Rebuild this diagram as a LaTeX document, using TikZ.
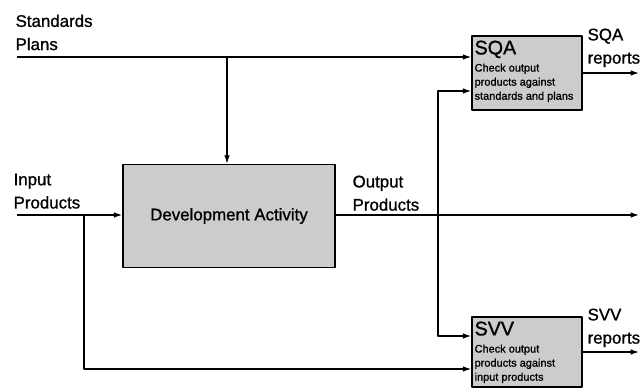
\documentclass[tikz,border=0pt]{standalone}
\usepackage{fontspec}
\setmainfont{Liberation Sans}[FakeBold=1]
\usetikzlibrary{arrows.meta}

\begin{document}
\begin{tikzpicture}[x=0.025cm,y=-0.025cm,line width=0.9pt,line join=round,>={Latex[length=6pt,width=4pt]},
		lbl/.style={anchor=north west,inner sep=0pt,align=left,font=\fontsize{12}{16.5}\selectfont},
		proc/.style={draw,fill=black!20,line width=1pt,inner sep=0pt},
		note/.style={anchor=north west,inner sep=0pt,align=left,font=\fontsize{7.8}{10}\selectfont}]
	\useasboundingbox (0,0) rectangle (641,388);
	
	\node[proc,minimum width=5.3cm,minimum height=2.575cm] (dev) at (229,216) {\fontsize{12}{14}\selectfont Development Activity};
	\node[proc,minimum width=2.75cm,minimum height=1.85cm] (sqa) at (527,73) {};
	\node[proc,minimum width=2.75cm,minimum height=1.75cm] (svv) at (527,352) {};
	
	\node[lbl,font=\fontsize{14}{14}\selectfont] (sqahead) at (474,40) {SQA};
	\node[note] (sqanote) at (474,63) {Check output\\products against\\standards and plans};
	\node[lbl,font=\fontsize{14}{14}\selectfont] (svvhead) at (474,321) {SVV};
	\node[note] (svvnote) at (474,344) {Check output\\products against\\input products};
	
	\coordinate (stdin) at (17,57);
	\coordinate (inpin) at (17,215);
	\coordinate (outend) at (639,215);
	\coordinate (stdjoin) at (227,57);
	\coordinate (inpjoin) at (84,215);
	\coordinate (outjoin) at (438,215);
	
	\draw[->] (stdin) -- (sqa.west |- stdin);
	\draw[->] (stdjoin) -- (dev.north -| stdjoin);
	\draw[->] (inpin) -- (dev.west |- inpin);
	\draw[->] (dev.east |- outjoin) -- (outend);
	\draw[->] (inpjoin) |- (svv.west |- 0,369);
	\draw[<->] (sqa.west |- 0,91) -| (outjoin) |- (svv.west |- 0,336);
	\draw[->] (sqa.east) -- (sqa.east -| outend);
	\draw[->] (svv.east) -- (svv.east -| outend);
	
	\node[lbl] (stdlbl) at (15,14) {Standards\\Plans};
	\node[lbl] (inplbl) at (13,173) {Input\\Products};
	\node[lbl] (outlbl) at (352,175) {Output\\Products};
	\node[lbl] (sqalbl) at (587,28) {SQA\\reports};
	\node[lbl] (svvlbl) at (587,308) {SVV\\reports};
\end{tikzpicture}
\end{document}
